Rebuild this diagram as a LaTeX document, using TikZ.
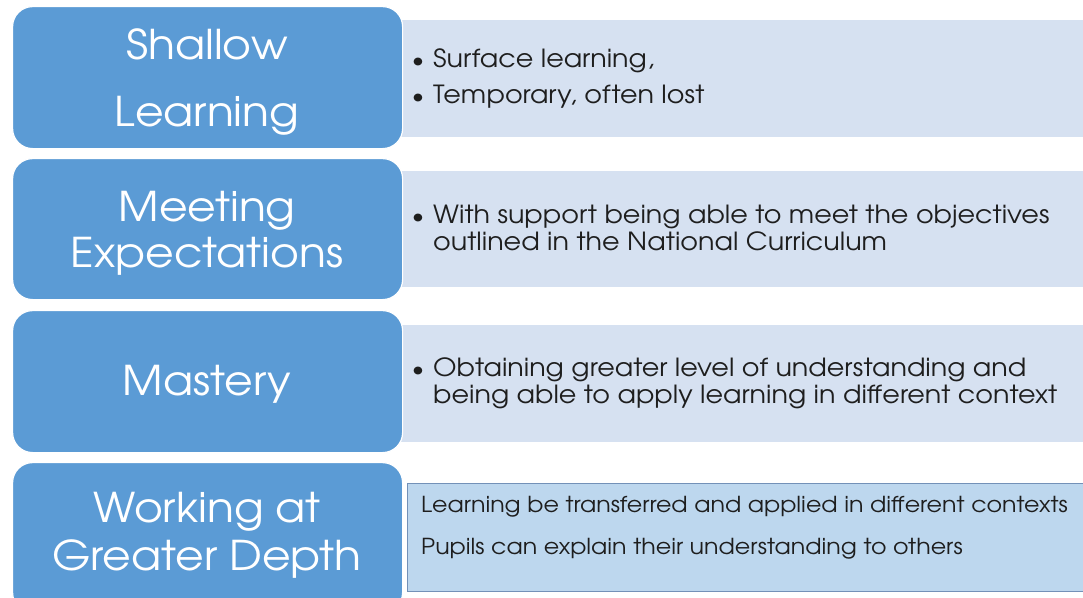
\documentclass[tikz,border=0pt]{standalone}
\usepackage{fontspec}
\setmainfont{TeX Gyre Adventor}
\newfontfamily\headfont[FakeStretch=1.075]{TeX Gyre Adventor}
\newfontfamily\descfont[FakeStretch=1.08]{TeX Gyre Adventor}
\definecolor{hblue}{HTML}{5B9BD5}
\definecolor{lbox}{HTML}{D6E1F1}
\definecolor{dbox}{HTML}{BDD7EE}
\definecolor{dborder}{HTML}{7391B8}
\definecolor{txt}{HTML}{1E1E1E}
\tikzset{
  headbox/.style={fill=hblue, draw=white, line width=1.2pt, rounded corners=20pt, anchor=north west, inner sep=0pt},
  descbox/.style={fill=lbox, draw=none, anchor=north west, inner sep=0pt},
  lastbox/.style={fill=dbox, draw=dborder, line width=1pt, anchor=north west, inner sep=0pt},
  headtxt/.style={text=white, font=\headfont\fontsize{41}{48}\selectfont, anchor=base, inner sep=0pt},
  desctxt/.style={text=txt, font=\descfont\fontsize{25}{28}\selectfont, anchor=base west, inner sep=0pt},
  bul/.style={text=txt, font=\descfont\fontsize{22}{28}\selectfont, anchor=base, inner sep=0pt},
  lasttxt/.style={text=txt, font=\descfont\fontsize{22}{25}\selectfont, anchor=base west, inner sep=0pt}
}
\begin{document}
\begin{tikzpicture}[x=1pt,y=-1pt]
\useasboundingbox (0,0) rectangle (1083,597);
\fill[white] (0,0) rectangle (1083,597);
% description boxes
\node[descbox, minimum width=690pt, minimum height=117pt] (d1) at (400,20) {};
\node[descbox, minimum width=690pt, minimum height=116pt] (d2) at (400,171) {};
\node[descbox, minimum width=690pt, minimum height=117pt] (d3) at (400,325) {};
\node[lastbox, minimum width=690pt, minimum height=108pt] (d4) at (407,483) {};
% heading boxes
\node[headbox, minimum width=390pt, minimum height=142pt] (h1) at (12,6) {};
\node[headbox, minimum width=390pt, minimum height=141pt] (h2) at (12,158) {};
\node[headbox, minimum width=390pt, minimum height=142pt] (h3) at (12,310) {};
\node[headbox, minimum width=390pt, minimum height=150pt] (h4) at (12,462) {};
% heading texts
\node[headtxt] (t1a) at (207,59) {Shallow};
\node[headtxt] (t1b) at (207,126) {Learning};
\node[headtxt] (t2a) at (207,221) {Meeting};
\node[headtxt] (t2b) at (207,267) {Expectations};
\node[headtxt] (t3a) at (207,395) {Mastery};
\node[headtxt] (t4a) at (207,522) {Working at};
\node[headtxt] (t4b) at (207,570) {Greater Depth};
% bullets
\node[bul] (b1a) at (418,67) {•};
\node[bul] (b1b) at (418,103) {•};
\node[bul] (b2) at (418,223) {•};
\node[bul] (b3) at (418,376) {•};
% description texts
\node[desctxt] (s1a) at (433,67) {Surface learning,};
\node[desctxt] (s1b) at (433,103) {Temporary, often lost};
\node[desctxt] (s2a) at (433,223) {With support being able to meet the objectives};
\node[desctxt] (s2b) at (433,250) {outlined in the National Curriculum};
\node[desctxt] (s3a) at (433,376) {Obtaining greater level of understanding and};
\node[desctxt] (s3b) at (433,403) {being able to apply learning in different context};
\node[lasttxt] (s4a) at (421,512) {Learning be transferred and applied in different contexts};
\node[lasttxt] (s4b) at (421,554) {Pupils can explain their understanding to others};
\end{tikzpicture}
\end{document}
